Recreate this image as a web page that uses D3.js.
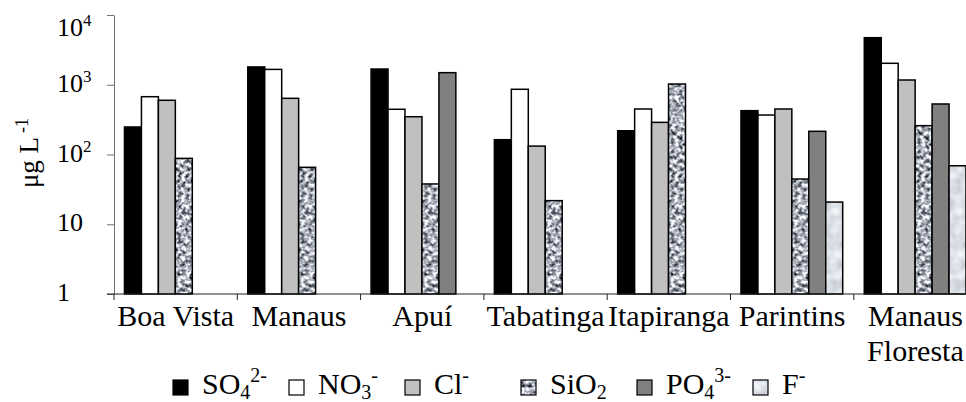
<!DOCTYPE html>
<meta charset="utf-8">
<style>
body { margin: 0; background: #fff; }
text { font-family: "Liberation Serif", "Times New Roman", serif; fill: #000; }
</style>
<svg width="966" height="402"></svg>
<script src="https://cdn.jsdelivr.net/npm/d3@7"></script>
<script>

var sites = ["Boa Vista", "Manaus", "Apuí", "Tabatinga", "Itapiranga", "Parintins", "Manaus Floresta"];
var ions = ["SO4", "NO3", "Cl", "SiO2", "PO4", "F"];

// concentrations in µg/L, null = no bar
var so4  = [248, 1800, 1680, 163, 219, 425, 4730];
var no3  = [674, 1660, 445, 861, 449, 368, 2030];
var cl   = [599, 639, 348, 132, 289, 449, 1170];
var sio2 = [88, 65.5, 37.8, 21.8, 1025, 44.5, 259];
var po4  = [null, null, 1490, null, null, 215, 530];
var f    = [null, null, null, null, null, 20.8, 69];

var yTicks = [1, 10, 100, 1000, 10000];

// legend labels as [text, "base" | "sub" | "sup"]
var legendLabels = [
  [["SO", "base"], ["4", "sub"], ["2-", "sup"]],
  [["NO", "base"], ["3", "sub"], ["-", "sup"]],
  [["Cl", "base"], ["-", "sup"]],
  [["SiO", "base"], ["2", "sub"]],
  [["PO", "base"], ["4", "sub"], ["3-", "sup"]],
  [["F", "base"], ["-", "sup"]]
];

var series = {SO4: so4, NO3: no3, Cl: cl, SiO2: sio2, PO4: po4, F: f};
var fills = {SO4: "#000", NO3: "#fff", Cl: "#c0c0c0", SiO2: "url(#pat-sio2)", PO4: "#808080", F: "url(#pat-f)"};

var svg = d3.select("svg");

// textures for SiO2 (granite) and F (pale marble)
var defs = svg.append("defs");
function noise(id, base, freq, oct, seed, matrix, op) {
  var flt = defs.append("filter").attr("id", id)
      .attr("x", 0).attr("y", 0).attr("width", "100%").attr("height", "100%")
      .attr("color-interpolation-filters", "sRGB");
  flt.append("feTurbulence").attr("type", "fractalNoise")
      .attr("baseFrequency", freq).attr("numOctaves", oct).attr("seed", seed);
  flt.append("feColorMatrix").attr("type", "matrix").attr("values", matrix);
  var pat = defs.append("pattern").attr("id", "pat-" + id)
      .attr("patternUnits", "userSpaceOnUse").attr("width", 966).attr("height", 402);
  pat.append("rect").attr("width", 966).attr("height", 402).attr("fill", base);
  pat.append("rect").attr("width", 966).attr("height", 402)
      .attr("opacity", op).attr("filter", "url(#" + id + ")");
}
noise("sio2", "#a4a7ab", 0.25, 3, 7, "2.0 0 0 0 -0.33  2.0 0 0 0 -0.31  2.0 0 0 0 -0.27  0 0 0 0 1", 1);
noise("f", "#dce1e5", 0.1, 2, 5, "0.5 0 0 0 0.6  0.5 0 0 0 0.62  0.5 0 0 0 0.65  0 0 0 0 1", 0.6);

// scales
var x0 = d3.scaleBand().domain(sites).range([114, 114 + 7 * 123.3]);
var bw = x0.bandwidth();
var x1 = d3.scaleBand().domain(ions).range([bw * 0.085, bw * 0.91]);
var y = d3.scaleLog().domain([1, 10000]).range([294, 15]);

// bars
var groups = svg.append("g").selectAll("g")
  .data(sites)
  .enter().append("g")
    .attr("transform", function(d) { return "translate(" + x0(d) + ",0)"; });

groups.selectAll("rect")
  .data(function(d, i) {
    return ions.map(function(k) { return {ion: k, value: series[k][i]}; })
      .filter(function(e) { return e.value != null; });
  })
  .enter().append("rect")
    .attr("x", function(d) { return x1(d.ion); })
    .attr("y", function(d) { return y(d.value); })
    .attr("width", x1.bandwidth())
    .attr("height", function(d) { return y(1) - y(d.value); })
    .attr("fill", function(d) { return fills[d.ion]; })
    .attr("stroke", "#000")
    .attr("stroke-width", 1.5);

// y axis
var yAxis = svg.append("g")
    .attr("transform", "translate(114,0)")
    .call(d3.axisLeft(y).tickValues(yTicks).tickFormat("").tickSize(7).tickSizeOuter(0));
yAxis.selectAll("path, line").attr("stroke", "#707070");

var yLab = svg.append("g").selectAll("text")
  .data(yTicks)
  .enter().append("text")
    .attr("x", 57)
    .attr("y", function(d) { return Math.max(y(d) + 7, 36); })
    .style("font-size", "26px");
yLab.each(function(d) {
  var t = d3.select(this);
  if (d < 100) { t.text(d); return; }
  t.append("tspan").text("10");
  t.append("tspan").attr("dy", -10).style("font-size", "17px").text(Math.round(Math.log10(d)));
});

// x axis
var xAxis = svg.append("g").attr("stroke", "#222").attr("stroke-width", 1);
xAxis.append("line").attr("x1", 107).attr("x2", 966).attr("y1", y(1)).attr("y2", y(1));
xAxis.selectAll(".tk")
  .data(sites)
  .enter().append("line")
    .attr("x1", function(d) { return x0(d); })
    .attr("x2", function(d) { return x0(d); })
    .attr("y1", y(1))
    .attr("y2", y(1) + 6);

svg.append("g").selectAll("text")
  .data(sites)
  .enter().append("text")
    .attr("text-anchor", "middle")
    .attr("x", function(d) { return x0(d) + bw / 2; })
    .attr("y", 326)
    .style("font-size", "30px")
    .each(function(d) {
      var t = d3.select(this);
      var words = d.split(" ");
      t.text(d);
      if (words.length > 1 && this.getComputedTextLength() > bw * 1.2) {
        t.text(null);
        words.forEach(function(w, i) {
          t.append("tspan").attr("x", x0(d) + bw / 2).attr("dy", i ? 35 : 0).text(w);
        });
      }
    });

// y title
var yTitle = svg.append("text")
    .attr("transform", "translate(38,153) rotate(-90)")
    .attr("text-anchor", "middle")
    .style("font-size", "27px");
yTitle.append("tspan").text("μg L");
yTitle.append("tspan").attr("dx", 4).attr("dy", -10).style("font-size", "18px").text("-1");

// legend
var lx = d3.scalePoint().domain(ions).range([173, 173 + 5 * 116]);
var leg = svg.append("g").selectAll("g")
  .data(ions)
  .enter().append("g")
    .attr("transform", function(d) { return "translate(" + lx(d) + ",0)"; });

leg.append("rect")
    .attr("y", 380)
    .attr("width", 15)
    .attr("height", 15)
    .attr("fill", function(d) { return fills[d]; })
    .attr("stroke", "#000")
    .attr("stroke-width", 1.2);

leg.append("text")
    .attr("x", 29)
    .attr("y", 394)
    .style("font-size", "30px")
    .each(function(d, i) {
      var t = d3.select(this), off = 0;
      legendLabels[i].forEach(function(p) {
        var target = p[1] === "sub" ? 5 : p[1] === "sup" ? -12 : 0;
        t.append("tspan")
          .attr("dy", target - off)
          .style("font-size", p[1] === "base" ? null : "20px")
          .text(p[0]);
        off = target;
      });
    });

</script>
